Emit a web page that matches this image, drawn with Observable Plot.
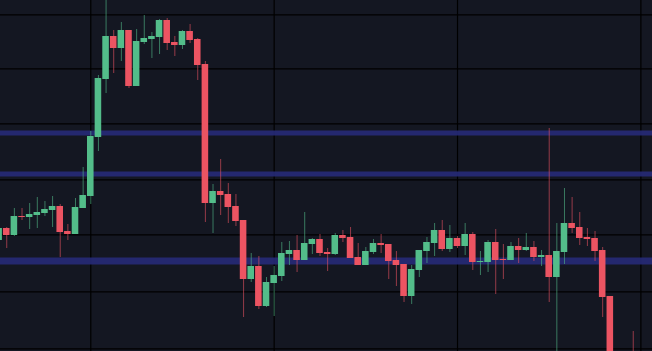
<!DOCTYPE html>
<html>
<head>
<meta charset="utf-8">
<script src="https://cdn.jsdelivr.net/npm/d3@7"></script>
<script src="https://cdn.jsdelivr.net/npm/@observablehq/plot@0.6"></script>
<style>
  html, body { margin: 0; padding: 0; background: #141722; overflow: hidden; }
  #chart svg { display: block; }
</style>
</head>
<body>
<div id="chart"></div>
<script>
// Candle values (arbitrary price units), index = bar number
const opens  = [111,123,116,135,134,136,138,141,145,120,117,143,155,214,272,315,303,321,265,309,312,314,331,309,306,320,312,287,148,160,157,145,131,72,85,45,68,75,97,101,91,107,112,99,97,116,114,94,86,99,108,107,91,87,55,81,100,108,121,102,113,105,117,89,89,109,92,91,105,101,104,94,96,74,99,128,124,114,113,101,55,-19,-35,-10];
const closes = [123,116,135,134,137,139,142,145,119,117,144,156,215,273,315,303,321,265,310,313,315,331,308,306,320,311,286,148,160,156,144,130,72,85,45,69,76,98,101,91,108,112,98,97,116,113,93,86,100,108,106,90,86,55,82,101,109,121,102,113,105,117,89,90,109,91,91,105,101,104,94,96,74,100,128,123,113,112,100,54,-19,-35,-25,-30];
const highs  = [125,124,143,143,148,154,150,155,147,127,153,184,220,276,356,321,329,321,322,336,319,332,333,315,321,327,313,290,167,192,168,157,131,98,95,74,85,109,110,116,139,113,117,103,118,121,124,108,104,112,117,107,100,87,86,101,114,128,131,126,115,128,119,100,111,122,107,109,113,118,110,101,223,128,163,154,139,123,120,104,55,-12,-15,20];
const lows   = [109,103,115,131,122,123,135,124,94,111,117,143,147,200,258,278,290,263,265,307,293,297,301,295,302,308,271,129,118,136,128,125,34,69,42,44,35,70,86,79,91,97,95,80,96,109,93,86,86,97,98,72,65,49,47,74,88,95,100,99,103,96,81,76,79,57,72,91,88,100,90,85,49,-10,87,118,106,105,90,34,-29,-45,-45,-40];

// Reference levels and grid
const levels = [218.5, 177.5, 90.5];
const levelWidths = [5, 5, 7];
const gridY = [336.7, 282.7, 227.7, 171.7, 116.7, 59.7, 2.7];
const gridX = [12, 36, 60, 84];

const UP = "#53bd8a", DOWN = "#ec5462";

const candles = opens.map((o, i) => ({
  i, open: o, close: closes[i], high: highs[i], low: lows[i],
  up: closes[i] >= o
}));
const levelData = levels.map((v, k) => ({v, w: levelWidths[k]}));

const chart = Plot.plot({
  width: 652,
  height: 351,
  margin: 0,
  style: { background: "#141722" },
  x: { type: "linear", domain: [0.183, 85.52], axis: null },
  y: { type: "linear", domain: [0, 351], axis: null },
  marks: [
    Plot.ruleY(gridY, { stroke: "#000", strokeWidth: 1.2 }),
    Plot.ruleX(gridX, { stroke: "#000", strokeWidth: 1.2 }),
    Plot.ruleY(levelData, { y: "v", stroke: "#262a78", strokeOpacity: 0.9, strokeWidth: d => d.w }),
    Plot.ruleX(candles, {
      x: "i", y1: "low", y2: "high",
      stroke: d => d.up ? UP : DOWN, strokeOpacity: 0.6, strokeWidth: 1, clip: true
    }),
    Plot.rect(candles, {
      x1: d => d.i - 0.43, x2: d => d.i + 0.43,
      y1: "open", y2: "close",
      fill: d => d.up ? UP : DOWN, clip: true
    })
  ]
});
document.getElementById("chart").appendChild(chart);
</script>
</body>
</html>
